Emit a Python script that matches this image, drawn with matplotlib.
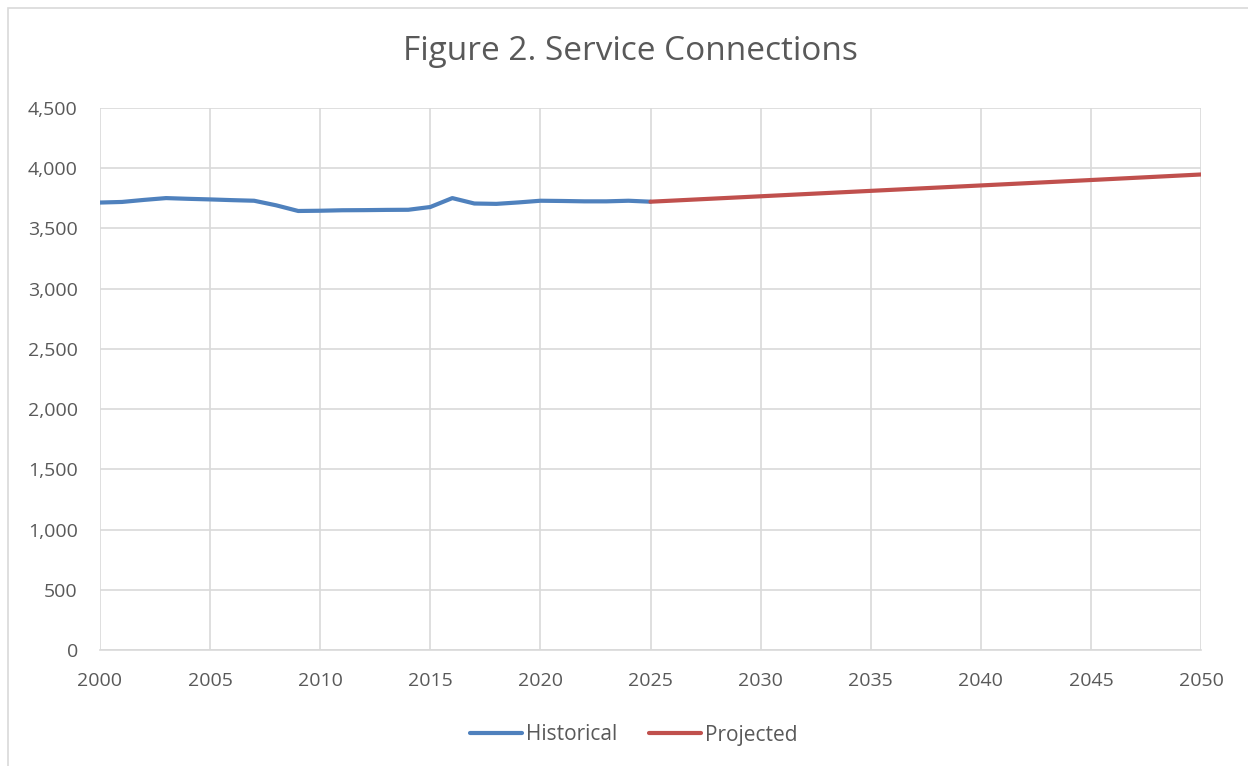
import matplotlib.pyplot as plt
from matplotlib.patches import Rectangle
from matplotlib.ticker import FuncFormatter

# historical service connections
hist_years = [2000, 2001, 2002, 2003, 2004, 2005, 2006, 2007, 2008, 2009, 2010, 2011, 2012,
              2013, 2014, 2015, 2016, 2017, 2018, 2019, 2020, 2021, 2022, 2023, 2024, 2025]
hist_values = [3715, 3720, 3737, 3752, 3746, 3741, 3735, 3730, 3692, 3645, 3647, 3651, 3652,
               3654, 3655, 3678, 3752, 3707, 3704, 3716, 3730, 3728, 3725, 3725, 3730, 3722]

# projected service connections
proj_years = [2025, 2030, 2035, 2040, 2045, 2050]
proj_values = [3722, 3767, 3812, 3857, 3902, 3948]

plt.rcParams['font.family'] = ['Open Sans', 'DejaVu Sans']
gray = '#595959'

fig = plt.figure(figsize=(12.48, 7.66), dpi=100)
fig.patches.append(Rectangle((8 / 1248, -0.01), 1.0, 1 - 8 / 766 + 0.01,
                             transform=fig.transFigure, fill=False,
                             edgecolor='#d9d9d9', linewidth=1.2))

ax = fig.add_axes([100 / 1248, 1 - 650 / 766, 1101 / 1248, 542 / 766])
ax.plot(hist_years, hist_values, color='#4f81bd', linewidth=3, label='Historical',
        solid_capstyle='round')
ax.plot(proj_years, proj_values, color='#c0504d', linewidth=3, label='Projected',
        solid_capstyle='round')

ax.set_xlim(2000, 2050)
ax.set_ylim(0, 4500)
ax.set_xticks(range(2000, 2051, 5))
ax.set_yticks(range(0, 4501, 500))
ax.yaxis.set_major_formatter(FuncFormatter(lambda v, p: f'{int(v):,}'))
ax.grid(True, color='#d9d9d9', linewidth=1.2)
ax.set_axisbelow(True)
for s in ['top', 'right', 'left']:
    ax.spines[s].set_visible(False)
ax.spines['bottom'].set_color('#d9d9d9')
ax.spines['bottom'].set_linewidth(1.2)
ax.tick_params(length=0, labelsize=14, labelcolor=gray)
ax.tick_params(axis='x', pad=16)
ax.tick_params(axis='y', pad=16)

fig.text(0.505, 1 - 52 / 766, 'Figure 2. Service Connections', ha='center', va='center',
         fontsize=24, color=gray)
fig.legend(loc='center', bbox_to_anchor=(0.508, 1 - 735 / 766), ncol=2, frameon=False,
           fontsize=15, labelcolor=gray, handlelength=2.5, columnspacing=1.5,
           handletextpad=0.2)

fig.savefig('out.png', dpi=100, facecolor='white')
